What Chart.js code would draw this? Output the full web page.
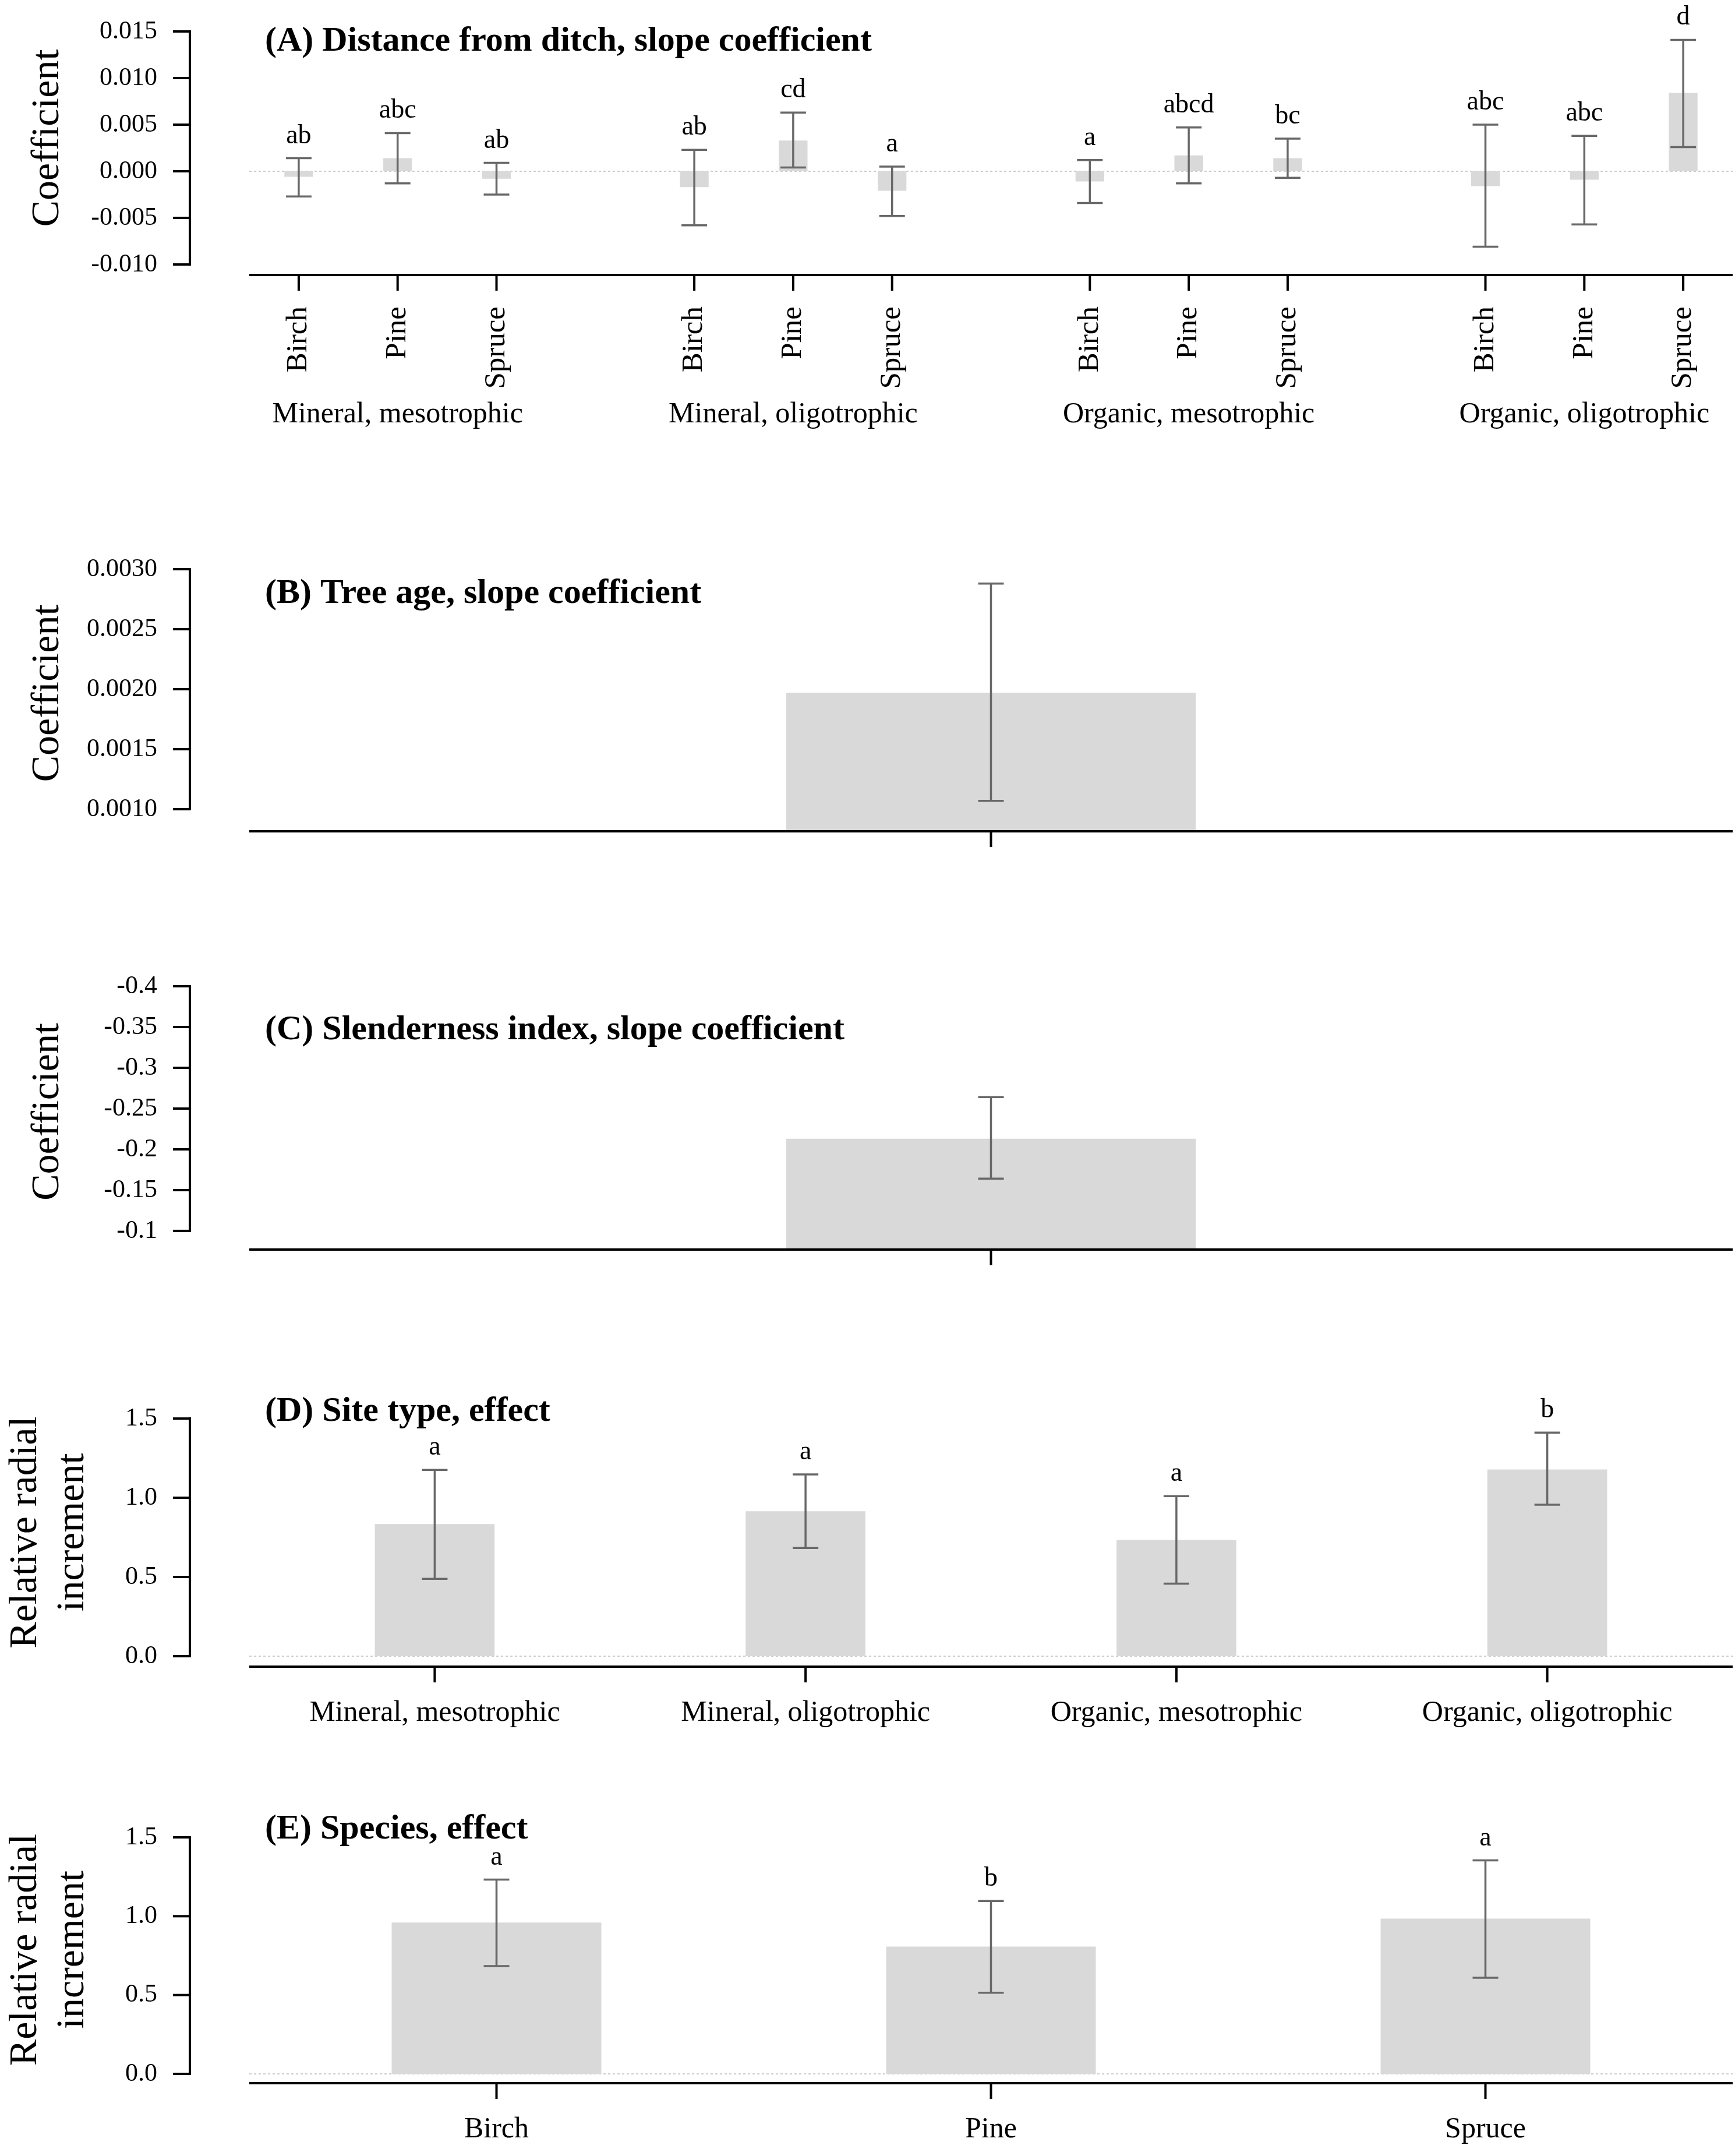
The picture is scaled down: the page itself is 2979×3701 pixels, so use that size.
<!DOCTYPE html>
<html>
<head>
<meta charset="utf-8">
<script src="https://cdn.jsdelivr.net/npm/chart.js@4.4.1/dist/chart.umd.min.js"></script>
<style>
  body { margin: 0; background: #fff; }
  #page { position: relative; width: 2979px; height: 3701px; overflow: hidden; background: #fff; }
  canvas { position: absolute; left: 0; }
</style>
</head>
<body>
<div id="page">
  <canvas id="chartA" width="2979" height="760" style="top:0px"></canvas>
  <canvas id="chartB" width="2979" height="670" style="top:860px"></canvas>
  <canvas id="chartC" width="2979" height="690" style="top:1560px"></canvas>
  <canvas id="chartD" width="2979" height="700" style="top:2300px"></canvas>
  <canvas id="chartE" width="2979" height="681" style="top:3020px"></canvas>
</div>
<script>
// categories
const species = ["Birch", "Pine", "Spruce"];
const siteTypes = ["Mineral, mesotrophic", "Mineral, oligotrophic", "Organic, mesotrophic", "Organic, oligotrophic"];

// (A) distance from ditch, site type x species (Birch, Pine, Spruce per site)
const distMean = [-0.0006, 0.0014, -0.0008, -0.0017, 0.0033, -0.0021, -0.0011, 0.0017, 0.0014, -0.0016, -0.0009, 0.0084];
const distLow = [-0.0027, -0.0013, -0.0025, -0.0058, 0.0004, -0.0048, -0.0034, -0.0013, -0.0007, -0.0081, -0.0057, 0.0026];
const distHigh = [0.0014, 0.0041, 0.0009, 0.0023, 0.0063, 0.0005, 0.0012, 0.0047, 0.0035, 0.0050, 0.0038, 0.0141];
const distLetters = ["ab", "abc", "ab", "ab", "cd", "a", "a", "abcd", "bc", "abc", "abc", "d"];
const distTicks = [-0.010, -0.005, 0, 0.005, 0.010, 0.015];
const distTickLabels = ["-0.010", "-0.005", "0.000", "0.005", "0.010", "0.015"];

// (B) tree age
const ageMean = [0.00197];
const ageLow = [0.00107];
const ageHigh = [0.00288];
const ageTicks = [0.0010, 0.0015, 0.0020, 0.0025, 0.0030];
const ageTickLabels = ["0.0010", "0.0015", "0.0020", "0.0025", "0.0030"];

// (C) slenderness index
const slenderMean = [-0.213];
const slenderLow = [-0.164];
const slenderHigh = [-0.264];
const slenderTicks = [-0.4, -0.35, -0.3, -0.25, -0.2, -0.15, -0.1];
const slenderTickLabels = ["-0.4", "-0.35", "-0.3", "-0.25", "-0.2", "-0.15", "-0.1"];

// (D) site type effect
const siteMean = [0.834, 0.915, 0.734, 1.179];
const siteLow = [0.488, 0.683, 0.458, 0.956];
const siteHigh = [1.176, 1.147, 1.010, 1.411];
const siteLetters = ["a", "a", "a", "b"];

// (E) species effect
const speciesMean = [0.960, 0.807, 0.985];
const speciesLow = [0.684, 0.515, 0.610];
const speciesHigh = [1.232, 1.096, 1.354];
const speciesLetters = ["a", "b", "a"];

const effectTicks = [0, 0.5, 1.0, 1.5];
const effectTickLabels = ["0.0", "0.5", "1.0", "1.5"];

const FONT = "'Liberation Serif', 'Times New Roman', Times, serif";

// panel A puts an empty slot between the site groups
function withGaps(arr) {
  const out = [];
  arr.forEach((v, i) => {
    out.push(v);
    if (i % 3 === 2 && i < arr.length - 1) out.push(null);
  });
  return out;
}

// draws the base-graphics look: detached y axis, ticks, error bars, letters, titles
function rStyle(cfg) {
  return {
    id: "rStyle",
    beforeDatasetsDraw(chart) {
      if (!cfg.zeroLine) return;
      const { ctx, chartArea, scales: { y } } = chart;
      const py = y.getPixelForValue(0);
      ctx.save();
      ctx.strokeStyle = "#cccccc";
      ctx.lineWidth = 2;
      ctx.setLineDash([4, 4]);
      ctx.beginPath();
      ctx.moveTo(chartArea.left, py);
      ctx.lineTo(chartArea.right, py);
      ctx.stroke();
      ctx.restore();
    },
    afterDraw(chart) {
      const { ctx, chartArea, scales: { x, y } } = chart;
      const values = chart.data.datasets[0].data;
      const seg = (x1, y1, x2, y2) => {
        ctx.beginPath();
        ctx.moveTo(x1, y1);
        ctx.lineTo(x2, y2);
        ctx.stroke();
      };
      ctx.save();

      // x axis
      ctx.strokeStyle = "#000";
      ctx.lineWidth = 4;
      seg(chartArea.left, chartArea.bottom, chartArea.right, chartArea.bottom);
      values.forEach((v, i) => {
        if (v === null) return;
        const px = x.getPixelForValue(i);
        seg(px, chartArea.bottom, px, chartArea.bottom + 27);
      });

      // y axis, only as long as the ticks
      const ax = chartArea.left - 102;
      const tickPx = cfg.yTicks.map(v => y.getPixelForValue(v));
      seg(ax, Math.min(...tickPx) - 2, ax, Math.max(...tickPx) + 2);
      tickPx.forEach(p => seg(ax - 29, p, ax, p));

      // error bars
      ctx.strokeStyle = "#686868";
      ctx.lineWidth = 3.5;
      values.forEach((v, i) => {
        if (v === null) return;
        const px = x.getPixelForValue(i);
        const lo = y.getPixelForValue(cfg.low[i]);
        const hi = y.getPixelForValue(cfg.high[i]);
        seg(px, lo, px, hi);
        seg(px - 22, lo, px + 22, lo);
        seg(px - 22, hi, px + 22, hi);
      });

      ctx.fillStyle = "#000";
      // significance letters
      if (cfg.letters) {
        ctx.font = "46px " + FONT;
        ctx.textAlign = "center";
        ctx.textBaseline = "alphabetic";
        values.forEach((v, i) => {
          if (v === null) return;
          const px = x.getPixelForValue(i);
          const hi = y.getPixelForValue(cfg.high[i]);
          ctx.fillText(cfg.letters[i], px, hi - 26);
        });
      }

      // group labels under panel A
      if (cfg.groups) {
        ctx.font = "50px " + FONT;
        ctx.textAlign = "center";
        ctx.textBaseline = "alphabetic";
        cfg.groups.forEach((g, k) => {
          const px = x.getPixelForValue(k * 4 + 1);
          ctx.fillText(g, px, cfg.groupBaseline);
        });
      }

      // panel title
      ctx.font = "bold 60px " + FONT;
      ctx.textAlign = "left";
      ctx.textBaseline = "alphabetic";
      ctx.fillText(cfg.title, chartArea.left + 27, cfg.titleBaseline);

      // y axis title
      ctx.font = "68px " + FONT;
      ctx.textAlign = "center";
      const cy = (chartArea.top + chartArea.bottom) / 2;
      cfg.yTitle.forEach((line, k) => {
        ctx.save();
        ctx.translate(cfg.yTitleX[k], cy);
        ctx.rotate(-Math.PI / 2);
        ctx.fillText(line, 0, 0);
        ctx.restore();
      });

      ctx.restore();
    }
  };
}

function makeChart(id, cfg) {
  return new Chart(document.getElementById(id), {
    type: "bar",
    data: {
      labels: cfg.labels,
      datasets: [{
        data: cfg.mean,
        backgroundColor: "#d9d9d9",
        borderWidth: 0,
        barPercentage: cfg.barWidth,
        categoryPercentage: 1
      }]
    },
    options: {
      responsive: false,
      animation: false,
      devicePixelRatio: 1,
      layout: { padding: { top: cfg.top, right: 4, bottom: 0, left: 0 } },
      plugins: { legend: { display: false }, tooltip: { enabled: false } },
      scales: {
        x: {
          type: "category",
          offset: true,
          grid: { display: false, drawTicks: false },
          border: { display: false },
          ticks: {
            autoSkip: false,
            minRotation: cfg.rotation,
            maxRotation: cfg.rotation,
            padding: cfg.labelPad,
            color: "#000",
            font: { family: FONT, size: cfg.rotation ? 51 : 50 }
          },
          afterFit: s => {
            s.height = cfg.xHeight;
            s.paddingLeft = 0;
            s.paddingRight = 0;
          }
        },
        y: {
          min: cfg.yMin,
          max: cfg.yMax,
          reverse: !!cfg.reverse,
          grid: { display: false, drawTicks: false },
          border: { display: false },
          afterBuildTicks: s => {
            s.ticks = cfg.yTicks.map(v => ({ value: v }));
          },
          ticks: {
            padding: 158,
            color: "#000",
            font: { family: FONT, size: 44 },
            callback: (v, i) => cfg.yTickLabels[i]
          },
          afterFit: s => {
            s.width = 428;
            s.paddingTop = 0;
            s.paddingBottom = 0;
          }
        }
      }
    },
    plugins: [rStyle(cfg)]
  });
}

const distLabels = withGaps(siteTypes.flatMap(() => species)).map(v => v === null ? "" : v);

makeChart("chartA", {
  labels: distLabels,
  mean: withGaps(distMean),
  low: withGaps(distLow),
  high: withGaps(distHigh),
  letters: withGaps(distLetters),
  groups: siteTypes,
  groupBaseline: 725,
  barWidth: 0.29,
  rotation: 90,
  labelPad: 54,
  xHeight: 288,
  top: 2,
  yMin: -0.011125,
  yMax: 0.01825,
  yTicks: distTicks,
  yTickLabels: distTickLabels,
  zeroLine: true,
  title: "(A) Distance from ditch, slope coefficient",
  titleBaseline: 87,
  yTitle: ["Coefficient"],
  yTitleX: [100]
});

makeChart("chartB", {
  labels: [""],
  mean: ageMean,
  low: ageLow,
  high: ageHigh,
  barWidth: 0.276,
  rotation: 0,
  labelPad: 50,
  xHeight: 103,
  top: 93,
  yMin: 0.000816,
  yMax: 0.003117,
  yTicks: ageTicks,
  yTickLabels: ageTickLabels,
  title: "(B) Tree age, slope coefficient",
  titleBaseline: 175,
  yTitle: ["Coefficient"],
  yTitleX: [100]
});

makeChart("chartC", {
  labels: [""],
  mean: slenderMean,
  low: slenderLow,
  high: slenderHigh,
  barWidth: 0.276,
  rotation: 0,
  labelPad: 50,
  xHeight: 105,
  top: 112,
  yMin: -0.415,
  yMax: -0.0771,
  reverse: true,
  yTicks: slenderTicks,
  yTickLabels: slenderTickLabels,
  title: "(C) Slenderness index, slope coefficient",
  titleBaseline: 224,
  yTitle: ["Coefficient"],
  yTitleX: [100]
});

makeChart("chartD", {
  labels: siteTypes,
  mean: siteMean,
  low: siteLow,
  high: siteHigh,
  letters: siteLetters,
  barWidth: 0.323,
  rotation: 0,
  labelPad: 50,
  xHeight: 139,
  top: 100,
  yMin: -0.066,
  yMax: 1.629,
  yTicks: effectTicks,
  yTickLabels: effectTickLabels,
  zeroLine: true,
  title: "(D) Site type, effect",
  titleBaseline: 139,
  yTitle: ["Relative radial", "increment"],
  yTitleX: [62, 143]
});

makeChart("chartE", {
  labels: species,
  mean: speciesMean,
  low: speciesLow,
  high: speciesHigh,
  letters: speciesLetters,
  barWidth: 0.424,
  rotation: 0,
  labelPad: 50,
  xHeight: 125,
  top: 98,
  yMin: -0.059,
  yMax: 1.633,
  yTicks: effectTicks,
  yTickLabels: effectTickLabels,
  zeroLine: true,
  title: "(E) Species, effect",
  titleBaseline: 136,
  yTitle: ["Relative radial", "increment"],
  yTitleX: [62, 143]
});
</script>
</body>
</html>
